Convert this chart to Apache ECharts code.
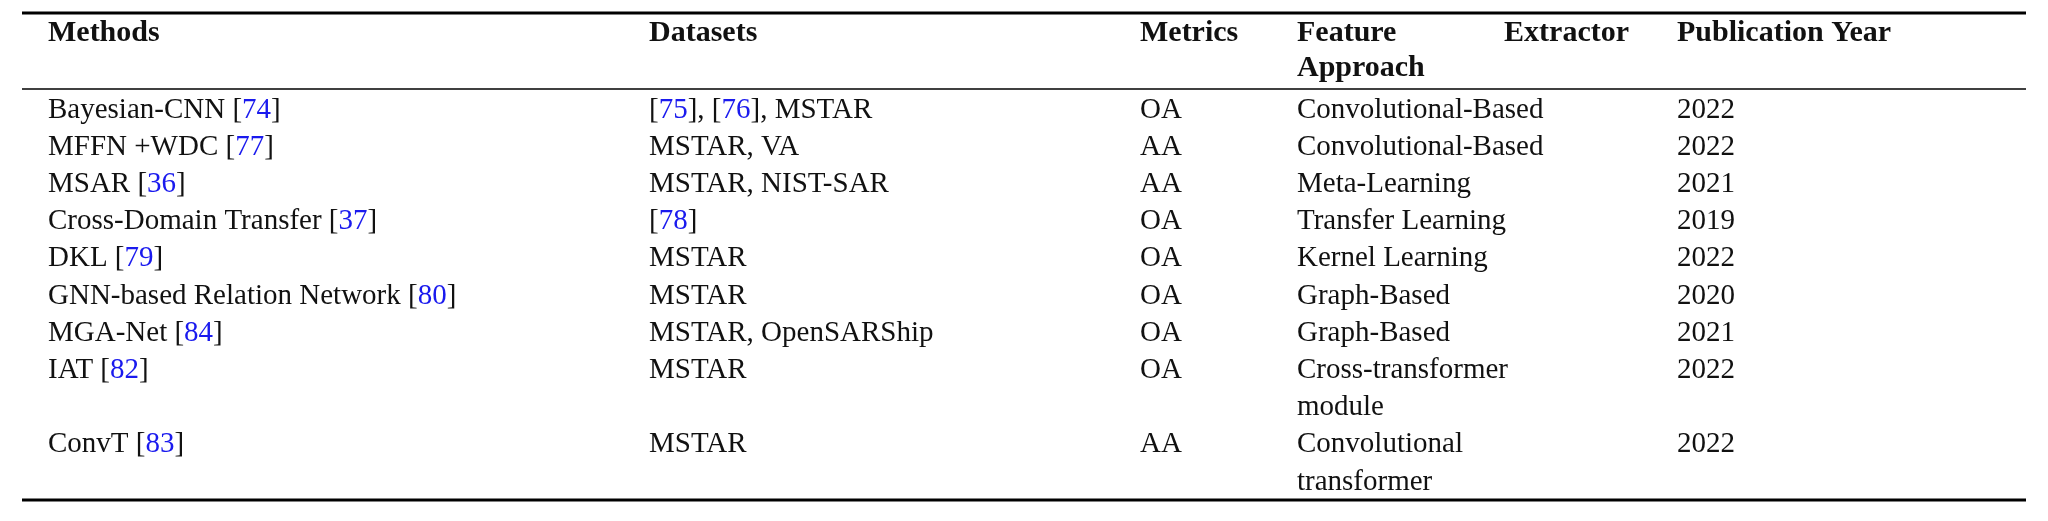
<!DOCTYPE html>
<html>
<head>
<meta charset="utf-8">
<script src="https://cdn.jsdelivr.net/npm/echarts@6/dist/echarts.min.js"></script>
<style>html,body{margin:0;padding:0;background:#fff}#main{width:2048px;height:521px}</style>
</head>
<body>
<div id="main"></div>
<script type="text/javascript">
// table content
var methods = ['Bayesian-CNN [74]', 'MFFN +WDC [77]', 'MSAR [36]', 'Cross-Domain Transfer [37]', 'DKL [79]',
    'GNN-based Relation Network [80]', 'MGA-Net [84]', 'IAT [82]', 'ConvT [83]'];
var datasets = ['[75], [76], MSTAR', 'MSTAR, VA', 'MSTAR, NIST-SAR', '[78]', 'MSTAR', 'MSTAR',
    'MSTAR, OpenSARShip', 'MSTAR', 'MSTAR'];
var metrics = ['OA', 'AA', 'AA', 'OA', 'OA', 'OA', 'OA', 'OA', 'AA'];
var approaches = ['Convolutional-Based', 'Convolutional-Based', 'Meta-Learning', 'Transfer Learning',
    'Kernel Learning', 'Graph-Based', 'Graph-Based', 'Cross-transformer\nmodule', 'Convolutional\ntransformer'];
var years = ['2022', '2022', '2021', '2019', '2022', '2020', '2021', '2022', '2022'];

var colX = [48, 649, 1140, 1297, 1677];
var lineH = 37.2;
var firstRowY = 110;
var font = '"Liberation Serif", "DejaVu Serif", serif';
var bodyFont = '29px ' + font;
var headFont = 'bold 30px ' + font;

// turn [nn] citations into blue rich text
function cite(s) {
    return s.replace(/\[(\d+)\]/g, '[{c|$1}]');
}

var graphics = [];
function txt(x, y, s, bold, align) {
    graphics.push({
        type: 'text', x: x, y: y,
        style: {
            text: s, fill: '#111', font: bold ? headFont : bodyFont,
            textAlign: align || 'left', textVerticalAlign: 'middle', lineHeight: lineH,
            rich: { c: { fill: '#1a1aee', font: bodyFont } }
        }
    });
}
function hline(y, w) {
    graphics.push({ type: 'line', shape: { x1: 22, y1: y, x2: 2026, y2: y }, style: { stroke: '#000', lineWidth: w } });
}

hline(13, 3);
hline(89, 1.6);
hline(500, 3);

txt(colX[0], 33, 'Methods', true);
txt(colX[1], 33, 'Datasets', true);
txt(colX[2], 33, 'Metrics', true);
txt(colX[3], 33, 'Feature', true);
txt(1629, 33, 'Extractor', true, 'right');
txt(colX[3], 68, 'Approach', true);
txt(colX[4], 33, 'Publication Year', true);

var y = firstRowY;
for (var i = 0; i < methods.length; i++) {
    var lines = approaches[i].split('\n').length;
    txt(colX[0], y, cite(methods[i]));
    txt(colX[1], y, cite(datasets[i]));
    txt(colX[2], y, metrics[i]);
    graphics.push({
        type: 'text', x: colX[3], y: y - lineH / 2,
        style: { text: approaches[i], fill: '#111', font: bodyFont, lineHeight: lineH, textVerticalAlign: 'top' }
    });
    txt(colX[4], y, years[i]);
    y += lineH * lines;
}

var myChart = echarts.init(document.getElementById('main'));
myChart.setOption({ animation: false, graphic: graphics });
</script>
</body>
</html>
